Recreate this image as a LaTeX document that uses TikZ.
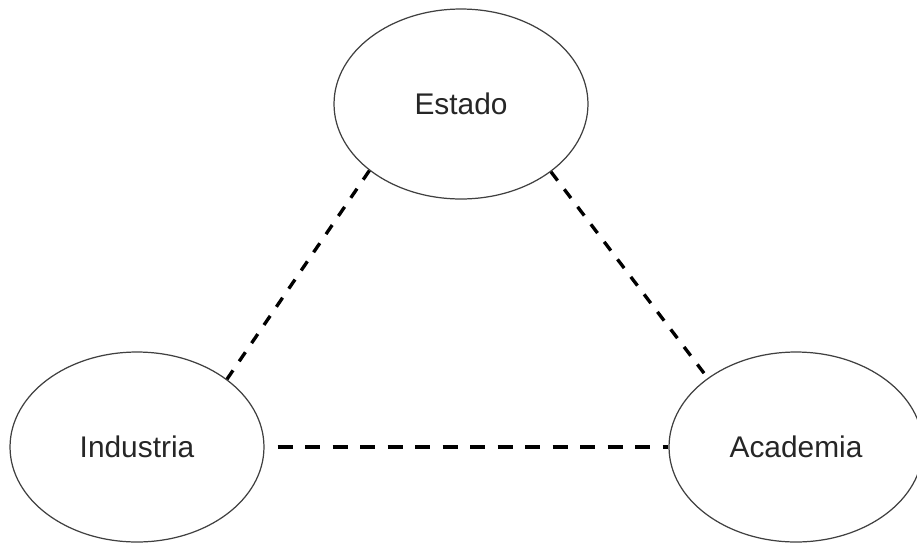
\documentclass[tikz,border=0pt]{standalone}
\usepackage{fontspec}
\setmainfont{Liberation Sans}
\usetikzlibrary{shapes.geometric}
\tikzset{
    actor/.style={draw=black!75, ellipse, line width=0.7pt, inner sep=0pt,
      minimum width=5.08cm, minimum height=3.8cm, text=black!85,
      font=\fontsize{17pt}{19pt}\selectfont},
    link/.style={line width=1.9pt, dash pattern=on 0.22cm off 0.22cm},
    flatlink/.style={line width=1.9pt, dash pattern=on 0.3cm off 0.25cm}
}
\begin{document}
\begin{tikzpicture}[x=0.02cm, y=-0.02cm]
          \useasboundingbox (0,0) rectangle (917,545);
          \node [actor] (est) at (461, 104) {Estado};
          \node [actor] (ind) at (137, 447) {Industria};
          \node [actor] (aca) at (796, 447) {Academia};
          \draw [link] (est.216) -- (ind.37);
          \draw [link] (est.-37) -- (aca.142);
          \draw [flatlink, shorten <=0.26cm] (ind.east) -- (aca.west);
        \end{tikzpicture}
\end{document}
